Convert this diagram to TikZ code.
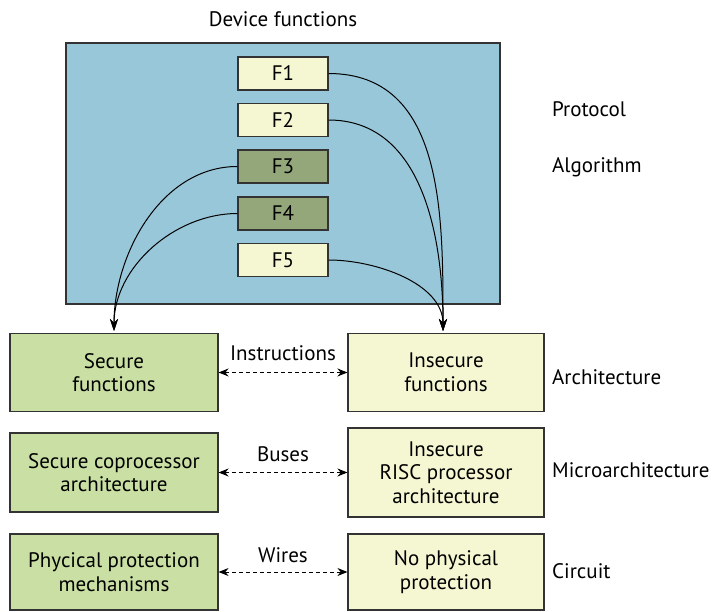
\documentclass[tikz,border=0pt]{standalone}
\usepackage{fontspec}
\setmainfont{PT Sans}
\usetikzlibrary{arrows.meta}
\definecolor{panelblue}{HTML}{99C7DA}
\definecolor{paleyellow}{HTML}{F5F7D2}
\definecolor{darkgreen}{HTML}{93A77B}
\definecolor{lightgreen}{HTML}{C9DFA3}
\definecolor{edge}{HTML}{333333}
\tikzset{
  box/.style={draw=edge, line width=1.1pt, inner sep=0pt, align=center,
    font=\fontsize{21}{23.5}\selectfont},
  fbox/.style={box, minimum width=90pt, minimum height=33pt},
  lbl/.style={font=\fontsize{21}{23.5}\selectfont, inner sep=0pt},
  flow/.style={line width=1pt, -{Stealth[length=12pt,width=8pt]}},
  link/.style={line width=1pt, dashed, dash pattern=on 4pt off 3pt,
    {Stealth[length=10pt,width=8pt]}-{Stealth[length=10pt,width=8pt]}}
}
\begin{document}
\begin{tikzpicture}[x=1pt,y=-1pt]
\useasboundingbox (0,0) rectangle (718,612);
% device panel
\node[box, fill=panelblue, minimum width=434pt, minimum height=261pt] (panel) at (283,173.5) {};
\node[lbl] (title) at (283,19) {Device functions};
% function blocks
\node[fbox, fill=paleyellow] (f1) at (283,73.5) {F1};
\node[fbox, fill=paleyellow] (f2) at (283,120) {F2};
\node[fbox, fill=darkgreen] (f3) at (283,166.5) {F3};
\node[fbox, fill=darkgreen] (f4) at (283,213.5) {F4};
\node[fbox, fill=paleyellow] (f5) at (283,260) {F5};
% layer names
\node[lbl, anchor=west] (protocol) at (552,109) {Protocol};
\node[lbl, anchor=west] (algorithm) at (552,167) {Algorithm};
\node[lbl, anchor=west] (arch) at (552,377) {Architecture};
\node[lbl, anchor=west] (march) at (552,470) {Microarchitecture};
\node[lbl, anchor=west] (circuit) at (552,571) {Circuit};
% secure / insecure blocks
\node[box, fill=lightgreen, minimum width=208pt, minimum height=78pt] (sf) at (114,372.5) {Secure\\functions};
\node[box, fill=paleyellow, minimum width=196pt, minimum height=78pt] (isf) at (446,372.5) {Insecure\\functions};
\node[box, fill=lightgreen, minimum width=208pt, minimum height=79pt] (sc) at (114,472.5) {Secure coprocessor\\architecture};
\node[box, fill=paleyellow, minimum width=196pt, minimum height=89pt] (risc) at (446,472.5) {Insecure\\RISC processor\\architecture};
\node[box, fill=lightgreen, minimum width=208pt, minimum height=76pt] (pp) at (114,572) {Phycical protection\\mechanisms};
\node[box, fill=paleyellow, minimum width=196pt, minimum height=76pt] (np) at (446,572) {No physical\\protection};
% connector labels
\node[lbl] (ins) at (283,353) {Instructions};
\node[lbl] (bus) at (283,454) {Buses};
\node[lbl] (wir) at (283,555) {Wires};
% arrow targets above the blocks
\coordinate (sin) at (114,331);
\coordinate (iin) at (443,331);
% mapping of functions
\draw[flow] (f1.east) to[out=0,in=90,looseness=1.05] (iin);
\draw[flow] (f2.east) to[out=0,in=90,looseness=1.0] (iin);
\draw[flow] (f5.east) to[out=0,in=90,looseness=0.9] (iin);
\draw[flow] (f3.west) to[out=180,in=90,looseness=0.95] (sin);
\draw[flow] (f4.west) to[out=180,in=90,looseness=0.95] (sin);
% interfaces between the two sides
\draw[link] (sf.east) -- (isf.west);
\draw[link] (sc.east) -- (risc.west);
\draw[link] (pp.east) -- (np.west);
\end{tikzpicture}
\end{document}
